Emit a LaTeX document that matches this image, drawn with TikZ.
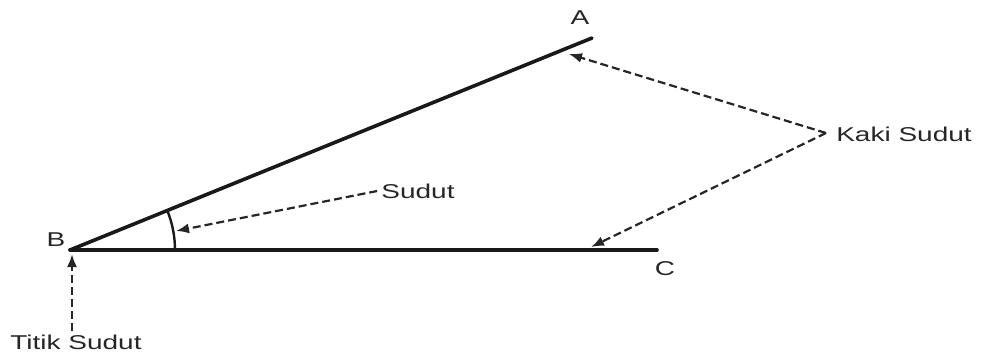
\documentclass[tikz,border=0pt]{standalone}
\usepackage{fontspec}
\setmainfont{Liberation Sans}
\usetikzlibrary{arrows.meta}
\begin{document}
\begin{tikzpicture}[x=1pt,y=-1pt,
  lbl/.style={font=\fontsize{20}{23}\selectfont, text=black!85, inner sep=0pt, xscale=1.4},
  leg/.style={line width=3.6pt, black!90, line cap=round},
  pointer/.style={line width=2.2pt, black!85, dash pattern=on 8pt off 4pt, -{Latex[length=13pt,width=10pt]}}]
\useasboundingbox (0,0) rectangle (982,354);
\coordinate (B) at (70,250);
\coordinate (A) at (592,38);
\coordinate (C) at (657,250);
\draw[leg] (B) -- (A);
\draw[leg] (B) -- (C);
\draw[line width=2.4pt, black!90] (B) ++(0:105) arc[start angle=0, end angle=-22.1, radius=105];
\node[lbl] (la) at (580,18) {A};
\node[lbl] (lb) at (56,240) {B};
\node[lbl] (lc) at (665,269) {C};
\node[lbl] (sudut) at (418,191) {Sudut};
\node[lbl] (kaki) at (904,134) {Kaki Sudut};
\node[lbl] (titik) at (76,342) {Titik Sudut};
\coordinate (tA) at (569,54);
\coordinate (tC) at (591,247);
\coordinate (tS) at (176,231);
\coordinate (tB) at (72,254);
\coordinate (kstart) at (826,133);
\draw[pointer] (kstart) -- (tA);
\draw[pointer] (kstart) -- (tC);
\draw[pointer] (sudut.west) ++(-4,0) -- (tS);
\draw[pointer] (72,331) -- (tB);
\end{tikzpicture}
\end{document}
